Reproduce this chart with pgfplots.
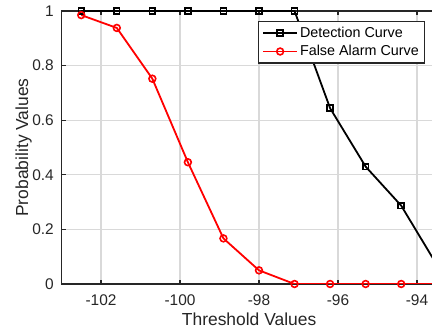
\documentclass[border=0pt]{standalone}
\usepackage{fontspec}
\setmainfont{Liberation Sans}
\usepackage{pgfplots}
\pgfplotsset{compat=1.18}
\definecolor{axgray}{rgb}{0.15,0.15,0.15}
\definecolor{gridgray}{rgb}{0.85,0.85,0.85}
\begin{document}
\begin{tikzpicture}
\begin{axis}[
  name=ax, at={(0,0)}, anchor=south west,
  scale only axis, width=375.25bp, height=273bp,
  xmin=-103, xmax=-93.5, ymin=0, ymax=1,
  xtick={-102,-100,-98,-96,-94}, xticklabels={-102,-100,-98,-96,-94},
  ytick={0,0.2,0.4,0.6,0.8,1}, yticklabels={0,0.2,0.4,0.6,0.8,1},
  tick align=inside, major tick length=4bp,
  every tick/.style={axgray, line width=1.2bp},
  axis line style={axgray, line width=1.6bp},
  grid=major, major grid style={gridgray, line width=1.2bp},
  tick label style={font=\fontsize{15.5}{18}\selectfont, text=axgray, inner sep=0pt},
  xticklabel style={anchor=north, yshift=-11bp},
  yticklabel style={anchor=east, xshift=-7.5bp},
  xlabel={Threshold Values}, ylabel={Probability Values},
  label style={font=\fontsize{17.5}{20}\selectfont, text=axgray, inner sep=0pt},
  xlabel style={at={(axis description cs:0.5,-0.15275)}, anchor=base},
  ylabel style={at={(axis description cs:-0.08927,0.5)}, anchor=base},
  legend style={at={(axis description cs:0.9687,0.9634)}, anchor=north east,
    draw=axgray, line width=1.4bp, fill=white,
    font=\fontsize{14.4}{17}\selectfont, text=black,
    inner xsep=3.5bp, inner ysep=3.5bp, row sep=2.5bp,
    cells={anchor=west}},
  legend image code/.code={\draw[mark repeat=2,mark phase=2] plot coordinates {(0bp,0bp) (17bp,0bp) (34bp,0bp)};},
  legend image post style={line width=1.8bp},
]
\addplot[black, line width=1.8bp, mark=square, mark size=2.9bp, mark options={solid, line width=1.6bp}]
  coordinates {(-102.5,1) (-101.6,1) (-100.7,1) (-99.8,1) (-98.9,1) (-98.0,1) (-97.1,1) (-96.2,0.644) (-95.3,0.430) (-94.4,0.287) (-93.5,0.071)};
\addlegendentry{Detection Curve}
\addplot[red, line width=1.8bp, mark=o, mark size=3.4bp, mark options={solid, line width=1.6bp}]
  coordinates {(-102.5,0.985) (-101.6,0.938) (-100.7,0.752) (-99.8,0.446) (-98.9,0.167) (-98.0,0.050) (-97.1,0) (-96.2,0) (-95.3,0) (-94.4,0) (-93.5,0)};
\addlegendentry{False Alarm Curve}
\end{axis}
\pgfresetboundingbox
\useasboundingbox ([shift={(-61.5bp,-47bp)}]ax.south west) rectangle ([shift={(370.5bp,284bp)}]ax.south west);
\end{tikzpicture}
\end{document}
